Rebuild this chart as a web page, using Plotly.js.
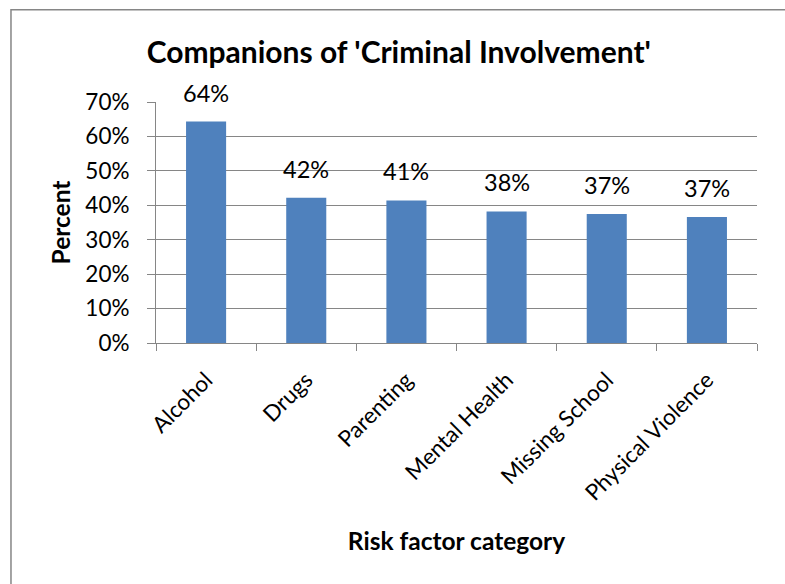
<!DOCTYPE html>
<html>
<head>
<meta charset="utf-8">
<script src="https://cdn.plot.ly/plotly-3.0.1.min.js"></script>
<style>html,body{margin:0;padding:0;background:#fff;}#chart{width:785px;height:584px;}</style>
</head>
<body>
<div id="chart"></div>
<script>
const categories = ['Alcohol', 'Drugs', 'Parenting', 'Mental Health', 'Missing School', 'Physical Violence'];
const values = [0.643, 0.422, 0.414, 0.382, 0.375, 0.366];
const labels = ['64%', '42%', '41%', '38%', '37%', '37%'];
const chartTitle = "Companions of 'Criminal Involvement'";
const xTitle = 'Risk factor category';
const yTitle = 'Percent';

const FONT = 'Lato, "Open Sans", sans-serif';
const GRID = '#868686';

const trace = {
  type: 'bar',
  x: categories,
  y: values,
  marker: {color: '#4F81BD', line: {color: '#4F81BD', width: 0}},
  hoverinfo: 'skip'
};

const annotations = categories.map((c, i) => ({
  x: c, y: values[i], text: labels[i], xref: 'x', yref: 'y',
  showarrow: false, yanchor: 'bottom', yshift: 13,
  font: {family: FONT, size: 23.5, color: '#000'}
}));

const layout = {
  width: 785, height: 584,
  margin: {l: 156, r: 28, t: 101.5, b: 241},
  paper_bgcolor: '#fff', plot_bgcolor: '#fff',
  font: {family: FONT, color: '#000'},
  showlegend: false,
  bargap: 0.6,
  title: {text: '<b>' + chartTitle + '</b>', x: 0.508, xanchor: 'center', y: 0.91, yanchor: 'middle',
          font: {family: FONT, size: 30, color: '#000'}},
  xaxis: {
    type: 'category', tickson: 'boundaries', ticks: 'outside', ticklen: 7, tickcolor: GRID, tickwidth: 1,
    showline: true, linecolor: GRID, linewidth: 1, showgrid: false,
    tickangle: -45, tickfont: {family: FONT, size: 22.5, color: '#000'}, ticklabelstandoff: 14,
    title: {text: '<b>' + xTitle + '</b>', font: {family: FONT, size: 24.5, color: '#000'}, standoff: 28},
    fixedrange: true
  },
  yaxis: {
    range: [0, 0.7], dtick: 0.1, tick0: 0, tickformat: '.0%',
    ticks: 'outside', ticklen: 8, tickcolor: GRID, tickwidth: 1,
    showline: true, linecolor: GRID, linewidth: 1,
    showgrid: true, gridcolor: GRID, gridwidth: 1, zeroline: false,
    tickfont: {family: FONT, size: 22.5, color: '#000'}, ticklabelstandoff: 13,
    title: {text: '<b>' + yTitle + '</b>', font: {family: FONT, size: 24.5, color: '#000'}, standoff: 7},
    fixedrange: true
  },
  annotations: annotations,
  shapes: [{
    type: 'rect', xref: 'paper', yref: 'paper',
    x0: -0.2413, x1: 1.2, y0: -1.5, y1: 1.383,
    line: {color: '#868686', width: 1.5}, fillcolor: 'rgba(0,0,0,0)', layer: 'below'
  }]
};

Plotly.newPlot('chart', [trace], layout, {staticPlot: true, displayModeBar: false});
</script>
</body>
</html>
